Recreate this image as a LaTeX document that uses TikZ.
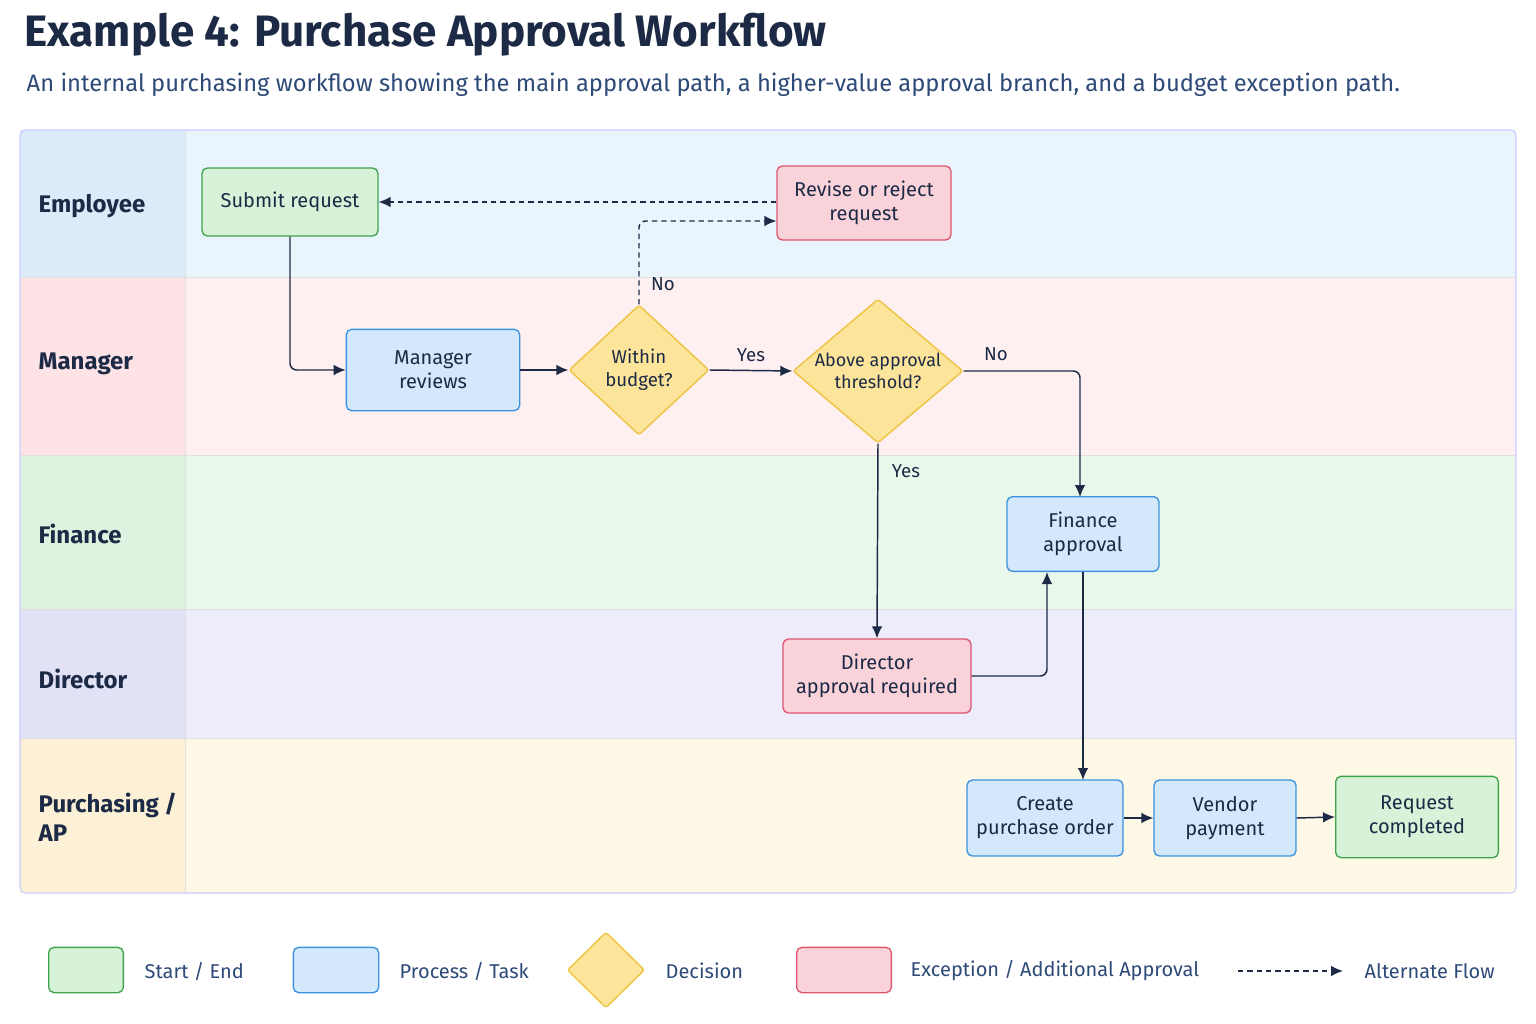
\documentclass[tikz,border=0pt]{standalone}
\usepackage{fontspec}
\setmainfont{Fira Sans}
\usetikzlibrary{shapes.geometric,arrows.meta}
\definecolor{ink}{HTML}{1C2A45}
\definecolor{gfill}{HTML}{D6F2D8}\definecolor{gdraw}{HTML}{3FA34D}
\definecolor{bfill}{HTML}{D3E8FB}\definecolor{bdraw}{HTML}{3A92E0}
\definecolor{yfill}{HTML}{FCE49A}\definecolor{ydraw}{HTML}{EEC23C}
\definecolor{pfill}{HTML}{FAD3DA}\definecolor{pdraw}{HTML}{E0566F}
\definecolor{subc}{HTML}{2E4A78}
\tikzset{
 box/.style={rectangle,rounded corners=4,line width=1pt,align=center,font=\fontsize{15}{18}\selectfont,text=ink,inner sep=0pt},
 start/.style={box,fill=gfill,draw=gdraw},
 proc/.style={box,fill=bfill,draw=bdraw},
 exc/.style={box,fill=pfill,draw=pdraw},
 dec/.style={diamond,fill=yfill,draw=ydraw,line width=1pt,align=center,font=\fontsize{14}{17}\selectfont,text=ink,inner sep=0pt,rounded corners=2},
 flow/.style={draw=ink,line width=1.1pt,-{Latex[length=9pt,width=8pt]},rounded corners=5},
 alt/.style={flow,dash pattern=on 4pt off 3pt},
 lbl/.style={font=\fontsize{14}{17}\selectfont,text=ink},
 lane/.style={font=\bfseries\fontsize{18}{22}\selectfont,text=ink,anchor=west,align=left},
 leg/.style={font=\fontsize{15}{18}\selectfont,text=subc,anchor=west}
}
\begin{document}
\begin{tikzpicture}[x=0.75pt,y=-0.75pt]
\useasboundingbox[fill=white] (0,0) rectangle (1536,1024);
\node[anchor=west,font=\bfseries\fontsize{33}{38}\selectfont,text=ink] (title) at (20,35) {Example 4: Purchase Approval Workflow};
\node[anchor=west,font=\fontsize{17.8}{21}\selectfont,text=subc] (sub) at (22,85) {An internal purchasing workflow showing the main approval path, a higher-value approval branch, and a budget exception path.};
% lanes
\fill[fill={rgb,255:red,234;green,244;blue,253}] (20,130) rectangle (1516,277);
\fill[fill={rgb,255:red,254;green,240;blue,241}] (20,277) rectangle (1516,455);
\fill[fill={rgb,255:red,234;green,248;blue,236}] (20,455) rectangle (1516,609);
\fill[fill={rgb,255:red,236;green,236;blue,250}] (20,609) rectangle (1516,738);
\fill[fill={rgb,255:red,254;green,249;blue,230}] (20,738) rectangle (1516,893);
\fill[fill={rgb,255:red,220;green,235;blue,250}] (20,130) rectangle (185,277);
\fill[fill={rgb,255:red,253;green,227;blue,230}] (20,277) rectangle (185,455);
\fill[fill={rgb,255:red,221;green,243;blue,224}] (20,455) rectangle (185,609);
\fill[fill={rgb,255:red,226;green,226;blue,247}] (20,609) rectangle (185,738);
\fill[fill={rgb,255:red,252;green,241;blue,214}] (20,738) rectangle (185,893);
\draw[white!88!black,line width=0.5pt] (20,277)--(1516,277) (20,455)--(1516,455) (20,609)--(1516,609) (20,738)--(1516,738) (185,130)--(185,893);
\draw[white!80!blue,line width=0.8pt,rounded corners=4] (20,130) rectangle (1516,893);
\node[lane] (l1) at (34,206) {Employee};
\node[lane] (l2) at (34,364) {Manager};
\node[lane] (l3) at (34,534) {Finance};
\node[lane] (l4) at (34,679) {Director};
\node[lane] (l5) at (34,817) {Purchasing /\\AP};
% nodes
\node[start,minimum width=132,minimum height=51] (submit) at (290,202) {Submit request};
\node[exc,minimum width=130.5,minimum height=55.5] (revise) at (864,203) {Revise or reject\\request};
\node[proc,minimum width=130,minimum height=61] (mgr) at (433,370) {Manager\\reviews};
\node[dec,minimum width=105,minimum height=97.5] (budget) at (639,370) {Within\\budget?};
\node[dec,aspect=1.2,font=\fontsize{13.5}{16}\selectfont,minimum width=127.5,minimum height=108] (thr) at (878,371) {Above approval\\threshold?};
\node[proc,minimum width=114,minimum height=56] (fin) at (1083,534) {Finance\\approval};
\node[exc,minimum width=141,minimum height=55.5] (dir) at (877,676) {Director\\approval required};
\node[proc,minimum width=117,minimum height=57] (po) at (1045,818) {Create\\purchase order};
\node[proc,minimum width=106.5,minimum height=57] (pay) at (1225,818) {Vendor\\payment};
\node[start,minimum width=122,minimum height=61] (done) at (1417,817) {Request\\completed};
% edges
\draw[flow] (submit.south) |- (mgr.west);
\draw[flow] (mgr.east) -- (budget.west);
\draw[flow] (budget.east) -- node[lbl,above=3pt] {Yes} (thr.west);
\coordinate (rv) at (revise.west |- 0,221);
\draw[alt] (budget.north) |- (rv);
\node[lbl] (no1) at (663,284) {No};
\draw[alt] (revise.west |- submit.east) -- (submit.east);
\coordinate (fn) at (1080,497);
\draw[flow] (thr.east) -| (fn);
\node[lbl] (no2) at (996,354) {No};
\draw[flow] (thr.south) -- (dir.north);
\node[lbl] (yes2) at (906,471) {Yes};
\coordinate (fb) at (1047,572);
\draw[flow] (dir.east) -| (fb);
\coordinate (ft) at (1083,572);
\coordinate (pt) at (1083,780);
\draw[flow] (ft) -- (pt);
\draw[flow] (po.east) -- (pay.west);
\draw[flow] (pay.east) -- (done.west);
% legend
\node[start,minimum width=56,minimum height=34] (lg1) at (86,970) {};
\node[leg] (lt1) at (140,971) {Start / End};
\node[proc,minimum width=64,minimum height=34] (lg2) at (336,970) {};
\node[leg] (lt2) at (395,971) {Process / Task};
\node[dec,minimum width=58,minimum height=57] (lg3) at (606,970) {};
\node[leg] (lt3) at (661,971) {Decision};
\node[exc,minimum width=71,minimum height=34] (lg4) at (844,970) {};
\node[leg] (lt4) at (906,971) {Exception / Additional Approval};
\coordinate (la) at (1238,971); \coordinate (lb) at (1343,971);
\draw[alt] (la) -- (lb);
\node[leg] (lt5) at (1360,971) {Alternate Flow};
\end{tikzpicture}
\end{document}
